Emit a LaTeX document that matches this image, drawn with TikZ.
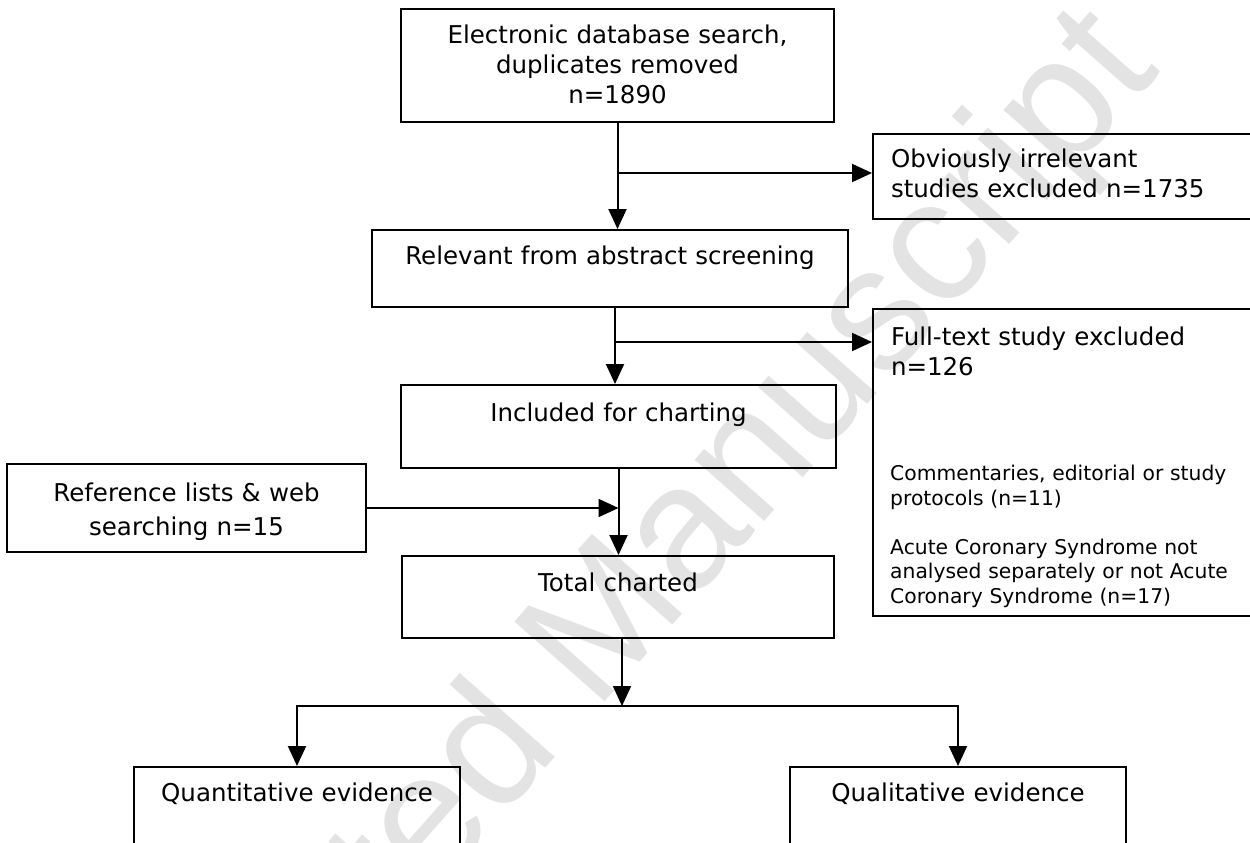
\documentclass[tikz,border=0pt]{standalone}
\usepackage{fontspec}
\setmainfont{DejaVu Sans}
\newfontfamily\wmfont{Liberation Sans}
\usetikzlibrary{arrows.meta}
\begin{document}
\begin{tikzpicture}[x=1pt,y=-1pt,
  box/.style={draw=black, line width=2pt, rectangle, inner xsep=0pt, inner ysep=0pt,
    align=center, anchor=north west, font=\fontsize{24.5}{30}\selectfont},
  leftbox/.style={box, align=left, inner xsep=18pt, text width=392pt},
  arr/.style={line width=2pt, -{Triangle[length=20pt,width=18pt]}},
  small/.style={inner sep=0pt, align=left, anchor=base west, text width=345pt,
    font=\fontsize{20.3}{24.5}\selectfont},
  wmark/.style={font=\wmfont\fontsize{175}{175}\selectfont, text=black!11, inner sep=0pt, anchor=base}
]
\useasboundingbox (0,0) rectangle (1250,843);
\clip (0,0) rectangle (1250,843);
\fill[white] (0,0) rectangle (1250,843);

% watermark
\node[wmark, rotate=48.5] (wm) at (621,683) {Accepted Manuscript};

% boxes
\node[box, text width=433pt, text height=35pt, text depth=78pt] (b1) at (400,8)
  {Electronic database search,\\duplicates removed\\n=1890};
\node[leftbox, text height=33pt, text depth=52pt] (obv) at (872,133)
  {Obviously irrelevant\\studies excluded n=1735};
\node[box, text width=476pt, text height=34pt, text depth=43pt] (b2) at (371,229)
  {Relevant from abstract screening};
\node[leftbox, text height=36pt, text depth=271pt] (ft) at (872,308)
  {Full-text study excluded\\n=126};
\node[small] (r1) at (890,480.5)
  {Commentaries, editorial or study\\protocols (n=11)};
\node[small] (r2) at (890,554)
  {Acute Coronary Syndrome not\\analysed separately or not Acute\\Coronary Syndrome (n=17)};
\node[box, text width=435pt, text height=36pt, text depth=47pt] (b3) at (400,384)
  {Included for charting};
\node[box, text width=359pt, font=\fontsize{24.5}{34}\selectfont, text height=37pt, text depth=51pt] (ref) at (6,463)
  {Reference lists \& web\\searching n=15};
\node[box, text width=432pt, text height=35pt, text depth=47pt] (b4) at (401,555)
  {Total charted};
\node[box, text width=326pt, text height=34pt, text depth=100pt] (qn) at (133,766)
  {Quantitative evidence};
\node[box, text width=336pt, text height=34pt, text depth=100pt] (ql) at (789,766)
  {Qualitative evidence};

% connectors
\coordinate (j1) at (616.5,173);
\coordinate (j2) at (615,342);
\coordinate (split) at (622,706);
\draw[arr] (b1.south) -- (b1.south |- b2.north);
\draw[arr] (j1) -- (j1 -| obv.west);
\draw[arr] (j2 |- b2.south) -- (j2 |- b3.north);
\draw[arr] (j2) -- (j2 -| ft.west);
\draw[arr] (b3.south) -- (b3.south |- b4.north);
\draw[arr] (ref.east) -- (ref.east -| b3.south);
\draw[arr] (split |- b4.south) -- (split);
\draw[arr] (split) -| (qn.north);
\draw[arr] (split) -| (ql.north);
\end{tikzpicture}
\end{document}
